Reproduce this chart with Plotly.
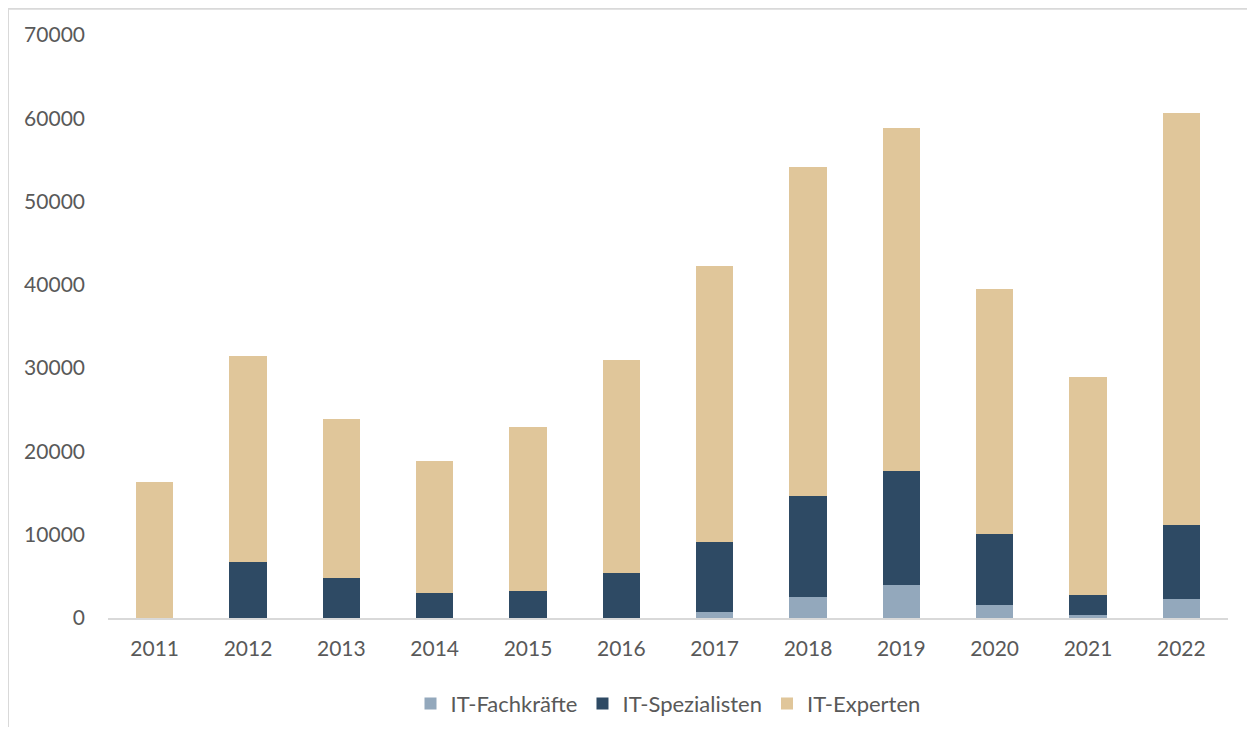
import plotly.graph_objects as go

# values
years = ['2011', '2012', '2013', '2014', '2015', '2016',
         '2017', '2018', '2019', '2020', '2021', '2022']
fachkraefte = [0, 0, 0, 0, 0, 0, 700, 2500, 4000, 1550, 400, 2250]
spezialisten = [0, 6700, 4750, 2950, 3200, 5350, 8400, 12150, 13650, 8550, 2360, 8900]
experten = [16350, 24800, 19100, 15930, 19730, 25680, 33140, 39510, 41190, 29420, 26160, 49500]

y_ticks = [0, 10000, 20000, 30000, 40000, 50000, 60000, 70000]
y_labels = [str(v) for v in y_ticks]

FONT = 'Lato'
TEXT = '#595959'
FRAME = '#D9D9D9'

fig = go.Figure()
fig.add_bar(x=years, y=fachkraefte, name='IT-Fachkräfte', marker_color='#93A8BC')
fig.add_bar(x=years, y=spezialisten, name='IT-Spezialisten', marker_color='#2E4A64')
fig.add_bar(x=years, y=experten, name='IT-Experten', marker_color='#E0C69A')
fig.update_traces(marker_line_width=0)

# the page body has an 8px margin, so the figure is a bit smaller than the window
fig.update_layout(
    barmode='stack',
    bargap=0.6,
    width=1239, height=719,
    margin=dict(l=100, r=19, t=27, b=109, autoexpand=False),
    plot_bgcolor='white', paper_bgcolor='white',
    font=dict(family=FONT, size=21, color=TEXT),
    showlegend=True,
    legend=dict(orientation='h', x=0.5, xanchor='center', y=-0.147, yanchor='middle',
                traceorder='normal', font=dict(size=22, color=TEXT),
                itemwidth=30),
)
fig.update_xaxes(showgrid=False, showline=True, linecolor=FRAME, linewidth=2,
                 ticks='', ticklabelstandoff=11)
fig.update_yaxes(range=[0, 70000], tickvals=y_ticks, ticktext=y_labels,
                 showgrid=False, zeroline=False, showline=False, ticks='',
                 ticklabelstandoff=22)

# light frame of the chart area (left and top edges visible)
fig.add_shape(type='line', xref='paper', yref='paper', x0=-0.0893, x1=-0.0893,
              y0=1.05, y1=-0.2, line=dict(color=FRAME, width=2))
fig.add_shape(type='line', xref='paper', yref='paper', x0=-0.0893, x1=1.02,
              y0=1.045, y1=1.045, line=dict(color=FRAME, width=2))

fig.write_html("out.html")
